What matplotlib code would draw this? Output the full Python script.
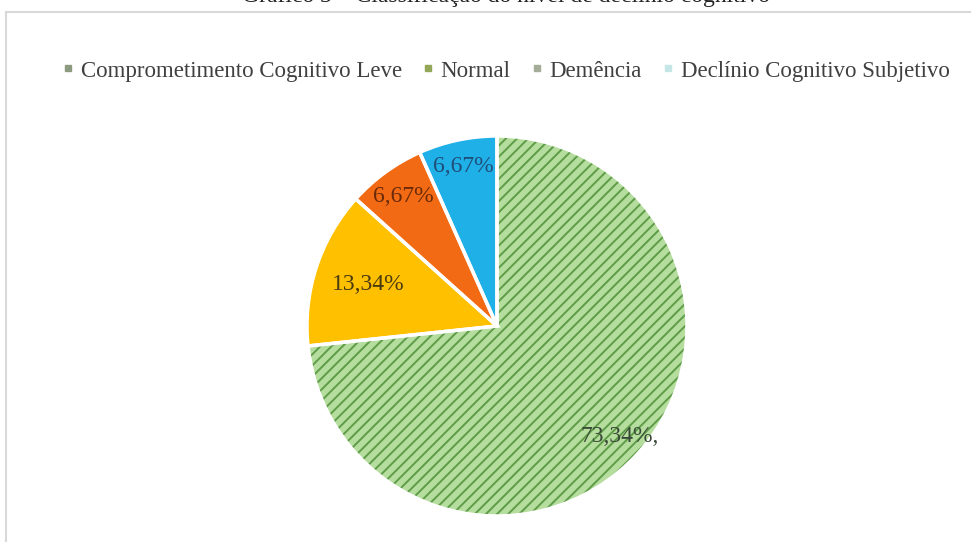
import matplotlib
matplotlib.use("Agg")
import matplotlib.pyplot as plt
from matplotlib.lines import Line2D
from matplotlib.patches import Rectangle
import numpy as np

categories = ["Comprometimento Cognitivo Leve", "Normal", "Demência", "Declínio Cognitivo Subjetivo"]
values = [73.34, 13.34, 6.67, 6.67]
labels = ["73,34%,", "13,34%", "6,67%", "6,67%"]
title = "Gráfico 3 – Classificação do nível de declínio cognitivo"

slice_colors = ["#b5dd9e", "#ffc000", "#f26b14", "#20b0e8"]
label_colors = ["#3a4a38", "#4a3a10", "#6a2a08", "#1f4e79"]
legend_colors = ["#8c9a80", "#93a857", "#a3ad98", "#c4e6e6"]
hatch_color = "#5e9c48"
label_dist = [0.87, 0.71, 0.84, 0.86]
explode = [0, 0, 0, 0.02]

plt.rcParams['font.family'] = ['Liberation Serif', 'DejaVu Serif']
plt.rcParams['hatch.linewidth'] = 1.4

W, H = 971, 542
fig = plt.figure(figsize=(W / 100, H / 100), dpi=100)
ax = fig.add_axes([0, 0, 1, 1])

# chart frame
ax.add_patch(Rectangle((6, -20), W + 50, H - 12 + 20, facecolor='white',
                       edgecolor='#d9d9d9', linewidth=1.5, zorder=0))

cx, cy, r = 497, H - 326, 190
wedges, _ = ax.pie(values, startangle=90, counterclock=False, colors=slice_colors,
                   center=(cx, cy), radius=r, explode=explode, frame=True,
                   wedgeprops=dict(edgecolor='white', linewidth=0))

g = wedges[0]
g.set_hatch('///')
g.set_edgecolor(hatch_color)
g.set_linewidth(0)

# white separators
ax.pie(values, startangle=90, counterclock=False, colors=['none'] * 4,
       center=(cx, cy), radius=r, explode=explode, frame=True,
       wedgeprops=dict(edgecolor='white', linewidth=2.5, facecolor='none'))
ax.set_xlim(0, W)
ax.set_ylim(0, H)
ax.set_aspect('equal')
ax.axis('off')

for w, lab, d, c in zip(wedges, labels, label_dist, label_colors):
    ang = np.deg2rad((w.theta1 + w.theta2) / 2)
    x0, y0 = w.center
    ax.text(x0 + d * w.r * np.cos(ang), y0 + d * w.r * np.sin(ang), lab,
            ha='center', va='center', fontsize=17, color=c)

ax.text(506, H - 2, title, ha='center', va='baseline', fontsize=17, color='#222222')

handles = [Line2D([], [], linestyle='none', marker='s', markersize=5,
                  markerfacecolor=c, markeredgecolor=c) for c in legend_colors]
fig.legend(handles, categories, loc='center', bbox_to_anchor=(506 / W, 1 - 71 / H),
           ncol=4, frameon=False, fontsize=16.5, handlelength=0.5, handletextpad=0.3,
           columnspacing=0.9, labelcolor='#404040')

fig.savefig('out.png', dpi=100)
